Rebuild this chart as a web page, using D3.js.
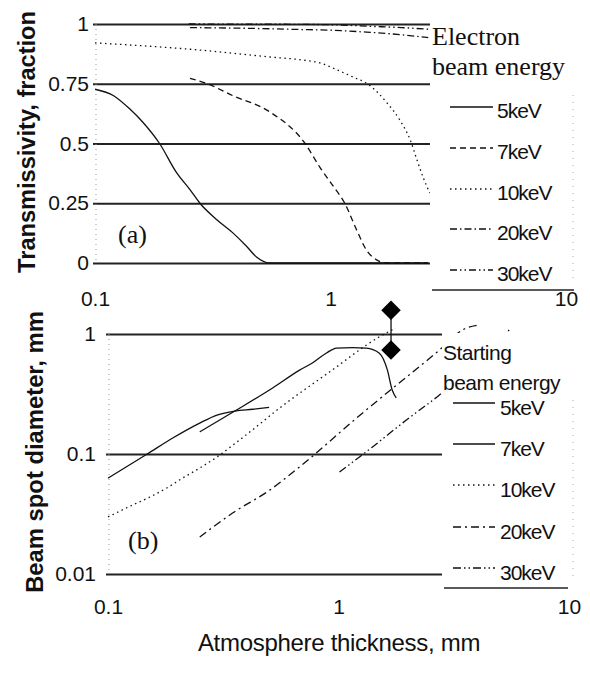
<!DOCTYPE html>
<html>
<head>
<meta charset="utf-8">
<script src="https://cdn.jsdelivr.net/npm/d3@7.9.0/dist/d3.min.js"></script>
<style>
  body { margin: 0; background: #fff; }
  svg { display: block; }
  .tick text { font-family: "Liberation Sans", Arial, sans-serif; font-size: 21px; fill: #111; }
</style>
</head>
<body>
<svg id="chart" width="590" height="674"></svg>
<script>
// ---- data ----
const energies = ['5keV', '7keV', '10keV', '20keV', '30keV'];

// (a) transmissivity vs atmosphere thickness (mm)
const thick5a = [0.1, 0.12, 0.141, 0.16, 0.188, 0.222, 0.253, 0.279, 0.33, 0.385, 0.44, 0.485, 0.55, 0.8, 1.2, 1.8, 2.6];
const trans5 = [0.727, 0.70, 0.643, 0.588, 0.5, 0.378, 0.307, 0.25, 0.18, 0.126, 0.07, 0.025, 0, 0, 0, 0, 0];
const thick7a = [0.253, 0.3, 0.385, 0.553, 0.78, 0.902, 1.03, 1.15, 1.29, 1.42, 1.57, 1.73, 2.0, 2.6];
const trans7 = [0.773, 0.75, 0.70, 0.632, 0.5, 0.40, 0.32, 0.25, 0.139, 0.055, 0.013, 0, 0, 0];
const thick10a = [0.1, 0.279, 0.553, 0.764, 0.902, 1.066, 1.247, 1.44, 1.74, 1.97, 2.18, 2.33, 2.47, 2.64];
const trans10 = [0.921, 0.891, 0.862, 0.849, 0.837, 0.808, 0.778, 0.749, 0.669, 0.598, 0.515, 0.431, 0.36, 0.293];
const thick20a = [0.253, 0.5, 0.74, 1.0, 1.42, 2.0, 2.6];
const trans20 = [0.985, 0.981, 0.977, 0.974, 0.966, 0.955, 0.943];
const thick30a = [0.25, 0.6, 1.0, 1.5, 2.0, 2.6];
const trans30 = [1.0, 0.999, 0.997, 0.99, 0.985, 0.978];

// (b) beam spot diameter (mm) vs atmosphere thickness (mm)
const thick5b = [0.1, 0.148, 0.191, 0.25, 0.297, 0.355, 0.425, 0.50];
const diam5 = [0.063, 0.1, 0.136, 0.181, 0.211, 0.228, 0.236, 0.245];
const thick7b = [0.25, 0.355, 0.518, 0.678, 0.77, 0.887, 0.98, 1.15, 1.32, 1.5, 1.63, 1.71, 1.78];
const diam7 = [0.153, 0.228, 0.355, 0.5, 0.573, 0.695, 0.764, 0.77, 0.764, 0.695, 0.50, 0.341, 0.293];
const thick10b = [0.1, 0.128, 0.152, 0.18, 0.211, 0.25, 0.297, 0.349, 0.413, 0.556, 0.914, 1.5, 1.77];
const diam10 = [0.0299, 0.0376, 0.0438, 0.0521, 0.0631, 0.0764, 0.0944, 0.119, 0.153, 0.242, 0.482, 0.944, 1.12];
const thick20b = [0.25, 0.347, 0.503, 0.678, 1.2, 2.74, 3.51, 4.07];
const diam20 = [0.0203, 0.0322, 0.050, 0.078, 0.2, 0.735, 1.1, 1.19];
const thick30b = [1.01, 1.40, 1.97, 2.74, 3.88, 5.5];
const diam30 = [0.0708, 0.114, 0.192, 0.31, 0.552, 1.08];

// measured spot size markers
const markerX = [1.69, 1.69];
const markerY = [1.58, 0.735];

const transTicks = [0, 0.25, 0.5, 0.75, 1];
const diamTicks = [0.01, 0.1, 1];
const thickTicks = [0.1, 1, 10];

// ---- drawing ----
const svg = d3.select('#chart');
const dashA = [null, '6,4', '1.5,3.5', '7,3,1.5,3', '7,3,1.5,3,1.5,3'];
const dashB = [null, null, '1.5,3.5', '8,4,2,4', '8,3,1.5,3,1.5,3'];

const zip = (xs, ys) => xs.map((x, i) => [x, ys[i]]);

function drawPanel(cfg) {
  const { x, y, yTicks, yFmt, gridLeft, gridRight, series, dashes, clipTop, clipBottom, id } = cfg;

  // y grid + labels
  const yAxis = d3.axisLeft(y).tickValues(yTicks).tickFormat(yFmt)
    .tickSize(-(gridRight - gridLeft)).tickPadding(cfg.yPad);
  const gy = svg.append('g').attr('transform', `translate(${gridLeft},0)`).call(yAxis);
  gy.select('.domain').remove();
  gy.selectAll('.tick line').attr('stroke', '#222').attr('stroke-width', 1.8);

  // faint dotted value axis
  svg.append('line')
    .attr('x1', x(0.1) + 1).attr('x2', x(0.1) + 1)
    .attr('y1', y(yTicks[yTicks.length - 1])).attr('y2', y(yTicks[0]))
    .attr('stroke', '#999').attr('stroke-dasharray', '1,4');

  // x labels
  const xAxis = d3.axisBottom(x).tickValues(thickTicks).tickFormat(d3.format('')).tickSize(0).tickPadding(0);
  const gx = svg.append('g').attr('transform', `translate(0,${cfg.xLabelTop})`).call(xAxis);
  gx.select('.domain').remove();

  svg.append('clipPath').attr('id', id).append('rect')
    .attr('x', gridLeft).attr('y', clipTop).attr('width', 575 - gridLeft).attr('height', clipBottom - clipTop);

  const line = d3.line().x(d => x(d[0])).y(d => y(d[1])).curve(d3.curveMonotoneX);
  const g = svg.append('g').attr('clip-path', `url(#${id})`);
  series.forEach((s, i) => {
    g.append('path')
      .attr('d', line(s))
      .attr('fill', 'none')
      .attr('stroke', '#111')
      .attr('stroke-width', 1.3)
      .attr('stroke-dasharray', dashes[i]);
  });
  return g;
}

// panel (a)
const xA = d3.scaleLog().domain([0.1, 10]).range([95, 566]);
const yA = d3.scaleLinear().domain([0, 1]).range([263, 24]);
drawPanel({
  id: 'clipA', x: xA, y: yA, yTicks: transTicks, yFmt: d => String(d), yPad: 4,
  gridLeft: 93, gridRight: 566, clipTop: 0, clipBottom: 275, xLabelTop: 291,
  series: [zip(thick5a, trans5), zip(thick7a, trans7), zip(thick10a, trans10), zip(thick20a, trans20), zip(thick30a, trans30)],
  dashes: dashA
});

// panel (b)
const xB = d3.scaleLog().domain([0.1, 10]).range([108, 569]);
const yB = d3.scaleLog().domain([0.01, 1]).range([574, 334]);
drawPanel({
  id: 'clipB', x: xB, y: yB, yTicks: diamTicks, yFmt: d => String(d), yPad: 10,
  gridLeft: 106, gridRight: 569, clipTop: 318, clipBottom: 580, xLabelTop: 599,
  series: [zip(thick5b, diam5), zip(thick7b, diam7), zip(thick10b, diam10), zip(thick20b, diam20), zip(thick30b, diam30)],
  dashes: dashB
});

// measured markers with connecting bar
const markers = zip(markerX, markerY);
svg.append('line')
  .attr('x1', xB(markerX[0])).attr('x2', xB(markerX[1]))
  .attr('y1', yB(markerY[0])).attr('y2', yB(markerY[1]))
  .attr('stroke', '#111').attr('stroke-width', 1.3);
svg.selectAll('path.marker').data(markers).join('path')
  .attr('class', 'marker')
  .attr('d', d3.symbol(d3.symbolSquare, 190))
  .attr('transform', d => `translate(${xB(d[0])},${yB(d[1])}) rotate(45)`)
  .attr('fill', '#000');

// legends
function drawLegend(cfg) {
  const g = svg.append('g');
  g.append('rect').attr('x', cfg.left).attr('y', cfg.top)
    .attr('width', 573 - cfg.left).attr('height', cfg.bottom - cfg.top).attr('fill', '#fff');
  g.append('line').attr('x1', cfg.left + 2).attr('x2', cfg.lineEnd).attr('y1', cfg.bottom).attr('y2', cfg.bottom)
    .attr('stroke', '#222').attr('stroke-width', 1.6);
  g.append('line').attr('x1', 573).attr('x2', 573).attr('y1', cfg.borderTop).attr('y2', cfg.bottom - 10)
    .attr('stroke', '#aaa').attr('stroke-dasharray', '1,6');
  cfg.title.forEach((t, i) => {
    g.append('text').attr('x', cfg.titleX).attr('y', cfg.titleY[i]).text(t)
      .attr('font-family', cfg.titleFont).attr('font-size', cfg.titleSize).attr('fill', '#111')
      .attr('letter-spacing', cfg.titleSpacing);
  });
  energies.forEach((e, i) => {
    const yy = cfg.rowY[i];
    g.append('line').attr('x1', cfg.sampleX[0]).attr('x2', cfg.sampleX[1]).attr('y1', yy).attr('y2', yy)
      .attr('stroke', '#111').attr('stroke-width', 1.4).attr('stroke-dasharray', cfg.dashes[i]);
    g.append('text').attr('x', cfg.textX).attr('y', yy + cfg.textDy).text(e)
      .attr('font-family', '"Liberation Sans", Arial, sans-serif').attr('font-size', 21)
      .attr('letter-spacing', -1).attr('fill', '#111');
  });
}

drawLegend({
  left: 430, top: 17, bottom: 290, lineEnd: 574, borderTop: 95,
  title: ['Electron', 'beam energy'], titleX: 432, titleY: [45, 75],
  titleFont: '"Liberation Serif", "Times New Roman", serif', titleSize: 26, titleSpacing: 0,
  rowY: [107, 148, 189, 229, 270], sampleX: [450, 493], textX: 497, textDy: 11, dashes: dashA
});
drawLegend({
  left: 442, top: 333, bottom: 588, lineEnd: 568, borderTop: 400,
  title: ['Starting', 'beam energy'], titleX: 443, titleY: [360, 390],
  titleFont: '"Liberation Sans", Arial, sans-serif', titleSize: 21, titleSpacing: -0.5,
  rowY: [403, 444, 485, 527, 568], sampleX: [453, 495], textX: 500, textDy: 12, dashes: dashB
});

// panel tags
svg.append('text').attr('x', 118).attr('y', 243).text('(a)')
  .attr('font-family', '"Liberation Serif", serif').attr('font-size', 26).attr('fill', '#111');
svg.append('text').attr('x', 128).attr('y', 549).text('(b)')
  .attr('font-family', '"Liberation Serif", serif').attr('font-size', 26).attr('fill', '#111');

// axis titles
svg.append('text')
  .attr('transform', 'translate(35,142) rotate(-90)')
  .attr('text-anchor', 'middle')
  .attr('font-family', '"Liberation Sans", Arial, sans-serif').attr('font-weight', 'bold').attr('font-size', 23.6)
  .attr('fill', '#111')
  .text('Transmissivity, fraction');
svg.append('text')
  .attr('transform', 'translate(43,452) rotate(-90)')
  .attr('text-anchor', 'middle')
  .attr('font-family', '"Liberation Sans", Arial, sans-serif').attr('font-weight', 'bold').attr('font-size', 23.8)
  .attr('fill', '#111')
  .text('Beam spot diameter, mm');
svg.append('text')
  .attr('x', 339).attr('y', 651)
  .attr('text-anchor', 'middle')
  .attr('font-family', '"Liberation Sans", Arial, sans-serif').attr('font-size', 24)
  .attr('letter-spacing', -0.3)
  .attr('fill', '#111')
  .text('Atmosphere thickness, mm');
</script>
</body>
</html>
